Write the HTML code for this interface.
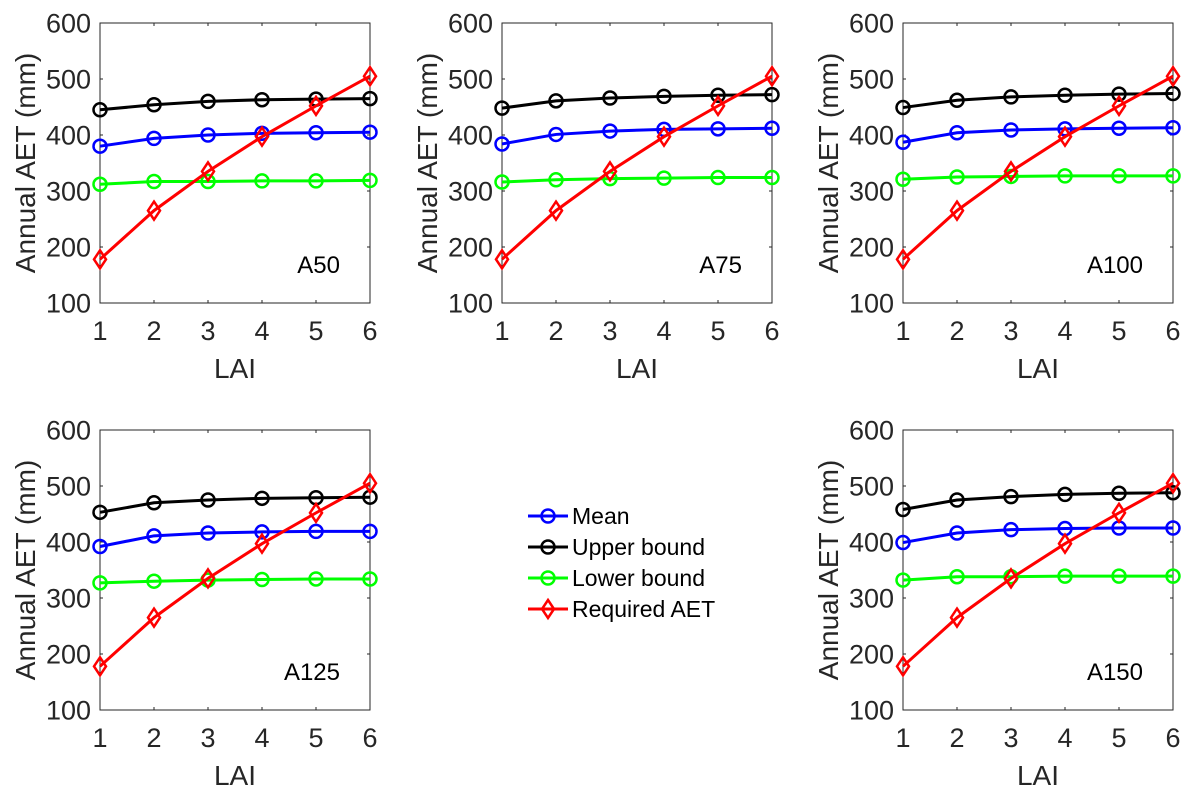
<!DOCTYPE html>
<html><head><meta charset="utf-8"><style>
body{margin:0;background:#fff;}
svg text{font-family:"Liberation Sans",Arial,sans-serif;fill:#262626;}
</style></head><body>
<svg id="fig" width="1195" height="798" xmlns="http://www.w3.org/2000/svg"></svg>
<script>
const lai = [1,2,3,4,5,6];
const yTicks = [100,200,300,400,500,600];
const required = [178,265,335,397,452,505];
const panelNames = ["A50","A75","A100","A125","A150"];
const upperA50=[445,454,460,463,464,465], meanA50=[380,394,400,403,404,405], lowerA50=[312,317,317,318,318,319];
const upperA75=[448,461,466,469,471,472], meanA75=[384,401,407,410,411,412], lowerA75=[316,320,322,323,324,324];
const upperA100=[449,462,468,471,473,474], meanA100=[387,404,409,411,412,413], lowerA100=[321,325,326,327,327,327];
const upperA125=[453,470,475,478,479,480], meanA125=[392,411,416,418,419,419], lowerA125=[327,330,332,333,334,334];
const upperA150=[458,475,481,485,487,488], meanA150=[399,416,422,424,425,425], lowerA150=[332,338,338,339,339,339];
const panelData=[[meanA50,upperA50,lowerA50],[meanA75,upperA75,lowerA75],[meanA100,upperA100,lowerA100],[meanA125,upperA125,lowerA125],[meanA150,upperA150,lowerA150]];
const layout=[[100,23],[502,23],[903,23],[100,430],[903,430]];
const W=270,H=280;
const NS="http://www.w3.org/2000/svg";
const svg=document.getElementById('fig');
function mk(tag,attrs,parent){const e=document.createElementNS(NS,tag);for(const k in attrs)e.setAttribute(k,attrs[k]);(parent||svg).appendChild(e);return e;}
const colors=["#0000ff","#000000","#00ff00"];
const names=["mean","upper-bound","lower-bound"];
panelData.forEach((series,pi)=>{
  const [L,T]=layout[pi];
  const g=mk('g',{});
  
  
  const xs=v=>L+(v-1)/5*W;
  const ys=v=>T+H-(v-100)/500*H;
  const box=mk('rect',{x:L,y:T,width:W,height:H,fill:'none',stroke:'#262626','stroke-width':1},g);
  
  
  yTicks.forEach(t=>{
    mk('line',{x1:L,x2:L+3,y1:ys(t),y2:ys(t),stroke:'#262626'},g);
    mk('line',{x1:L+W,x2:L+W-3,y1:ys(t),y2:ys(t),stroke:'#262626'},g);
    const tx=mk('text',{x:L-9,y:ys(t)+9.5,'text-anchor':'end','font-size':27},g);tx.textContent=t;
    
    
  });
  lai.forEach(t=>{
    mk('line',{x1:xs(t),x2:xs(t),y1:T+H,y2:T+H-3,stroke:'#262626'},g);
    mk('line',{x1:xs(t),x2:xs(t),y1:T,y2:T+3,stroke:'#262626'},g);
    const tx=mk('text',{x:xs(t),y:T+H+37,'text-anchor':'middle','font-size':27},g);tx.textContent=t;
    
    
  });
  const xl=mk('text',{x:L+W/2,y:T+H+75,'text-anchor':'middle','font-size':28},g);xl.textContent='LAI';
  
  
  const yl=mk('text',{x:0,y:0,'text-anchor':'middle','font-size':28,transform:`translate(${L-65},${T+H/2}) rotate(-90)`},g);yl.textContent='Annual AET (mm)';
  
  
  const lab=mk('text',{x:L+W-30,y:T+H-30,'text-anchor':'end','font-size':24,style:'fill:#000'},g);lab.textContent=panelNames[pi];
  
  
  series.forEach((s,si)=>{
    const pl=mk('polyline',{points:s.map((v,i)=>xs(lai[i])+','+ys(v)).join(' '),fill:'none',stroke:colors[si],'stroke-width':3},g);
    
    
    s.forEach((v,i)=>{
      const c=mk('circle',{cx:xs(lai[i]),cy:ys(v),r:6.5,fill:'none',stroke:colors[si],'stroke-width':2.5},g);
      
      
    });
  });
  const rl=mk('polyline',{points:required.map((v,i)=>xs(lai[i])+','+ys(v)).join(' '),fill:'none',stroke:'#ff0000','stroke-width':3},g);
  
  
  required.forEach((v,i)=>{
    const x=xs(lai[i]),y=ys(v);
    const d=mk('polygon',{points:`${x},${y-9} ${x+6},${y} ${x},${y+9} ${x-6},${y}`,fill:'none',stroke:'#ff0000','stroke-width':2.5},g);
    
    
  });
});
const leg=mk('g',{});


const legLabels=["Mean","Upper bound","Lower bound","Required AET"];
const legColors=["#0000ff","#000000","#00ff00","#ff0000"];
legLabels.forEach((t,i)=>{
  const y=516+i*31;
  mk('line',{x1:528,x2:568,y1:y,y2:y,stroke:legColors[i],'stroke-width':3},leg);
  if(i<3){mk('circle',{cx:548,cy:y,r:6.5,fill:'none',stroke:legColors[i],'stroke-width':2.5},leg);}
  else{mk('polygon',{points:`548,${y-9} 554,${y} 548,${y+9} 542,${y}`,fill:'none',stroke:'#ff0000','stroke-width':2.5},leg);}
  const tx=mk('text',{x:572,y:y+8,'font-size':23,style:'fill:#000'},leg);tx.textContent=t;
  
  
});
</script>
</body></html>
